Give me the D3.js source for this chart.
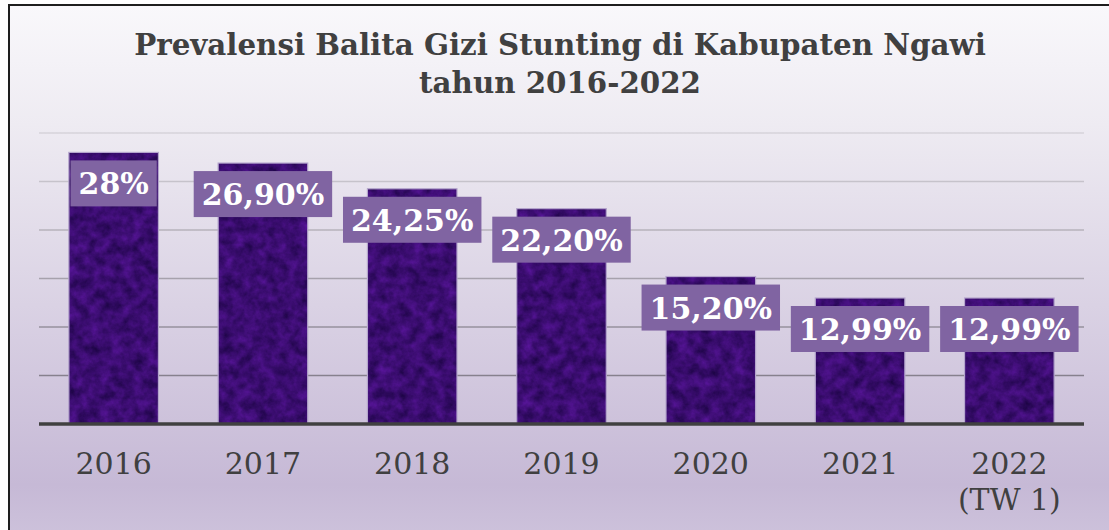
<!DOCTYPE html>
<html lang="en">
<head>
<meta charset="UTF-8">
<title>Prevalensi Balita Gizi Stunting</title>
<style>
    html, body { margin: 0; padding: 0; background: #ffffff; overflow: hidden; }
    .title { font: bold 29.3px "DejaVu Serif", serif; fill: #404040; }
    .xlab { font: 30px "DejaVu Serif", serif; fill: #404040; }
    .vlab { font: bold 30px "DejaVu Serif", serif; fill: #ffffff; }
</style>
</head>
<body>
<svg id="chart"></svg>
<script src="https://cdn.jsdelivr.net/npm/d3@7/dist/d3.min.js"></script>
<script>
// Data
var categories = ["2016", "2017", "2018", "2019", "2020", "2021", "2022\n(TW 1)"];
var values = [28, 26.9, 24.25, 22.2, 15.2, 12.99, 12.99];
var valueLabels = ["28%", "26,90%", "24,25%", "22,20%", "15,20%", "12,99%", "12,99%"];
var yTicks = [0, 5, 10, 15, 20, 25, 30];
var titleLines = ["Prevalensi Balita Gizi Stunting di Kabupaten Ngawi", "tahun 2016-2022"];

var svgWidth = 1109, svgHeight = 530;
var plot = {left: 39, right: 1084, top: 133, bottom: 424};

var svg = d3.select("#chart")
    .attr("width", svgWidth)
    .attr("height", svgHeight);

var defs = svg.append("defs");

// background gradient
var bg = defs.append("linearGradient")
    .attr("id", "bgGrad")
    .attr("x1", 0).attr("y1", 0).attr("x2", 0).attr("y2", 1);
bg.append("stop").attr("offset", "0%").attr("stop-color", "#f9f8fb");
bg.append("stop").attr("offset", "20%").attr("stop-color", "#eeebf2");
bg.append("stop").attr("offset", "80%").attr("stop-color", "#c6b9d6");
bg.append("stop").attr("offset", "100%").attr("stop-color", "#d6cde2");

// gridline gradient (lighter at top, darker at bottom)
var gg = defs.append("linearGradient")
    .attr("id", "gridGrad")
    .attr("gradientUnits", "userSpaceOnUse")
    .attr("x1", 0).attr("y1", plot.top).attr("x2", 0).attr("y2", 380);
gg.append("stop").attr("offset", "0%").attr("stop-color", "#d6d3da");
gg.append("stop").attr("offset", "100%").attr("stop-color", "#857f8c");

// bar texture, subtle mottling
var f = defs.append("filter")
    .attr("id", "tex")
    .attr("x", 0).attr("y", 0).attr("width", 1).attr("height", 1)
    .attr("color-interpolation-filters", "sRGB");
f.append("feTurbulence")
    .attr("type", "fractalNoise")
    .attr("baseFrequency", "0.09")
    .attr("numOctaves", 4)
    .attr("seed", 7)
    .attr("result", "n");
f.append("feColorMatrix")
    .attr("in", "n")
    .attr("type", "matrix")
    .attr("values", "0.28 0 0 0 0.09  0.08 0 0 0 0.01  0.40 0 0 0 0.24  0 0 0 0 1")
    .attr("result", "c");
f.append("feComposite")
    .attr("in", "c")
    .attr("in2", "SourceGraphic")
    .attr("operator", "in");

// chart area with border
svg.append("rect")
    .attr("x", 9).attr("y", 5)
    .attr("width", 1200).attr("height", 600)
    .attr("fill", "url(#bgGrad)")
    .attr("stroke", "#1e1e1e")
    .attr("stroke-width", 2);

// title
svg.append("text")
    .attr("class", "title")
    .attr("text-anchor", "middle")
    .selectAll("tspan")
    .data(titleLines)
    .enter()
    .append("tspan")
    .attr("x", 560)
    .attr("y", function(d, i) { return 55 + i * 38; })
    .text(function(d) { return d; });

// scales
var xs = d3.scaleBand()
    .domain(categories)
    .range([plot.left, plot.right])
    .paddingInner(0.4)
    .paddingOuter(0.2);

var ys = d3.scaleLinear()
    .domain([0, 30])
    .range([plot.bottom, plot.top]);

// gridlines
svg.append("g")
    .selectAll("line")
    .data(yTicks.filter(function(d) { return d > 0; }))
    .enter()
    .append("line")
    .attr("x1", plot.left)
    .attr("x2", plot.right)
    .attr("y1", function(d) { return ys(d); })
    .attr("y2", function(d) { return ys(d); })
    .attr("stroke", "url(#gridGrad)")
    .attr("stroke-width", 1.5);

// bars
var bars = svg.append("g");
bars.selectAll("rect.fill")
    .data(values)
    .enter()
    .append("rect")
    .attr("class", "fill")
    .attr("x", function(d, i) { return xs(categories[i]); })
    .attr("y", function(d) { return ys(d); })
    .attr("width", xs.bandwidth())
    .attr("height", function(d) { return ys(0) - ys(d); })
    .attr("fill", "#3a0d70")
    .attr("filter", "url(#tex)");

bars.selectAll("rect.edge")
    .data(values)
    .enter()
    .append("rect")
    .attr("class", "edge")
    .attr("x", function(d, i) { return xs(categories[i]); })
    .attr("y", function(d) { return ys(d); })
    .attr("width", xs.bandwidth())
    .attr("height", function(d) { return ys(0) - ys(d); })
    .attr("fill", "none")
    .attr("stroke", "#b4a5cc")
    .attr("stroke-width", 1.2);

// baseline
svg.append("line")
    .attr("x1", plot.left)
    .attr("x2", plot.right)
    .attr("y1", ys(0))
    .attr("y2", ys(0))
    .attr("stroke", "#404040")
    .attr("stroke-width", 3.5);

// x axis labels
var xAxis = svg.append("g")
    .attr("transform", "translate(0," + ys(0) + ")")
    .call(d3.axisBottom(xs).tickSize(0).tickFormat(""));
xAxis.select(".domain").remove();
xAxis.selectAll(".tick").each(function(d) {
    var t = d3.select(this).append("text")
        .attr("class", "xlab")
        .attr("text-anchor", "middle")
        .attr("fill", null);
    d.split("\n").forEach(function(line, i) {
        t.append("tspan")
            .attr("x", 0)
            .attr("y", 50 + i * 36)
            .text(line);
    });
});

// value labels
var lab = svg.append("g").selectAll("g")
    .data(values)
    .enter()
    .append("g")
    .attr("transform", function(d, i) {
        return "translate(" + (xs(categories[i]) + xs.bandwidth() / 2) + "," + (ys(d) + 31) + ")";
    });

var boxes = lab.append("rect")
    .attr("fill", "#8064a2")
    .attr("y", -23)
    .attr("height", 46);

var texts = lab.append("text")
    .attr("class", "vlab")
    .attr("text-anchor", "middle")
    .attr("y", 11)
    .text(function(d, i) { return valueLabels[i]; });

texts.each(function(d, i) {
    var w = this.getComputedTextLength() + 16;
    d3.select(boxes.nodes()[i])
        .attr("x", -w / 2)
        .attr("width", w);
});
</script>
</body>
</html>
